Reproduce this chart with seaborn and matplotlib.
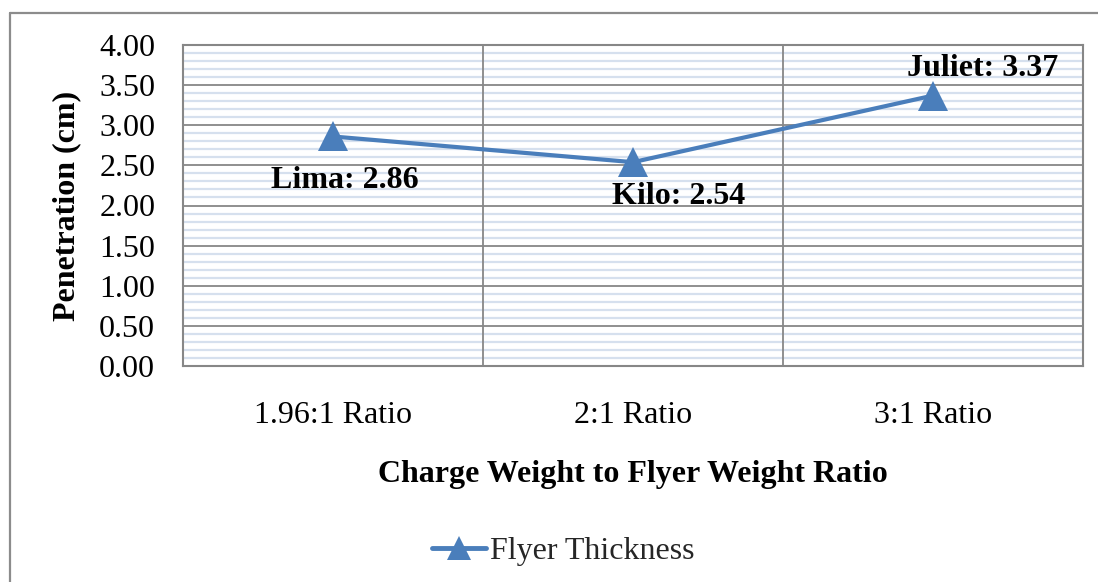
import matplotlib
matplotlib.use("Agg")
import matplotlib.pyplot as plt
from matplotlib.lines import Line2D
import seaborn as sns
import pandas as pd
import numpy as np

categories = ["1.96:1 Ratio", "2:1 Ratio", "3:1 Ratio"]
penetration = [2.86, 2.54, 3.37]
point_names = ["Lima", "Kilo", "Juliet"]
series_name = "Flyer Thickness"
y_ticks = [0.0, 0.5, 1.0, 1.5, 2.0, 2.5, 3.0, 3.5, 4.0]

sns.set_theme(style="white")
plt.rcParams['font.family'] = ['Liberation Serif', 'DejaVu Serif']

LINE = "#4a7ebb"
GRID = "#878787"
MINOR = "#d6e0ee"
FS = 23

df = pd.DataFrame({"cat": categories, "val": penetration})

fig = plt.figure(figsize=(10.98, 5.82), dpi=100)
ax = fig.add_axes([183/1098, 1 - 366/582, 900/1098, 321/582])

sns.lineplot(data=df, x="cat", y="val", ax=ax, sort=False, color=LINE,
             linewidth=3, marker="^", markersize=21, markeredgewidth=0,
             label=series_name, legend=False, zorder=5)

ax.set_xlim(-0.5, 2.5)
ax.set_ylim(0, 4)
ax.set_yticks(y_ticks)
ax.set_yticklabels([f"{v:.2f}" for v in y_ticks])
ax.set_yticks(np.arange(0, 4.001, 0.1), minor=True)
ax.set_xticks(range(len(categories)))
ax.set_xticklabels(categories)
ax.set_xticks([0.5, 1.5], minor=True)

ax.grid(False)
ax.yaxis.grid(True, which="minor", color=MINOR, linewidth=1.6)
ax.yaxis.grid(True, which="major", color=GRID, linewidth=1.3)
ax.xaxis.grid(True, which="minor", color=GRID, linewidth=1.3)
ax.set_axisbelow(True)
ax.yaxis.set_zorder(0.5)
ax.xaxis.set_zorder(0.7)
for s in ax.spines.values():
    s.set_color(GRID)
    s.set_linewidth(1.5)

ax.tick_params(axis="both", which="both", length=0)
ax.tick_params(axis="y", labelsize=FS, pad=20, colors="black")
ax.tick_params(axis="x", labelsize=FS, pad=25, colors="black")

ax.set_xlabel("Charge Weight to Flyer Weight Ratio", fontsize=FS, fontweight="bold",
              labelpad=22, color="black")
ax.set_ylabel("Penetration (cm)", fontsize=FS, fontweight="bold", labelpad=13, color="black")

offsets = [(12, -44), (46, -34), (50, 27)]
for i, (name, v) in enumerate(zip(point_names, penetration)):
    ax.annotate(f"{name}: {v:.2f}", xy=(i, v), xytext=offsets[i], textcoords="offset pixels",
                ha="center", va="center", fontsize=FS, fontweight="bold", color="black",
                zorder=6)

handle = Line2D([], [], color=LINE, linewidth=3.5, marker="^", markersize=17,
                markeredgewidth=0, solid_capstyle="round")
fig.legend([handle], [series_name], loc="center", bbox_to_anchor=(563/1098, 31/582),
           frameon=False, fontsize=FS, handlelength=1.7, handletextpad=0.1)

# outer chart border
bx = 10/1098
by = 1 - 13/582
fig.add_artist(Line2D([bx, bx], [0, by], transform=fig.transFigure, color="#8c8c8c", linewidth=1.6))
fig.add_artist(Line2D([bx, 1.0], [by, by], transform=fig.transFigure, color="#8c8c8c", linewidth=1.6))

fig.savefig("out.png", dpi=100, facecolor="white")
